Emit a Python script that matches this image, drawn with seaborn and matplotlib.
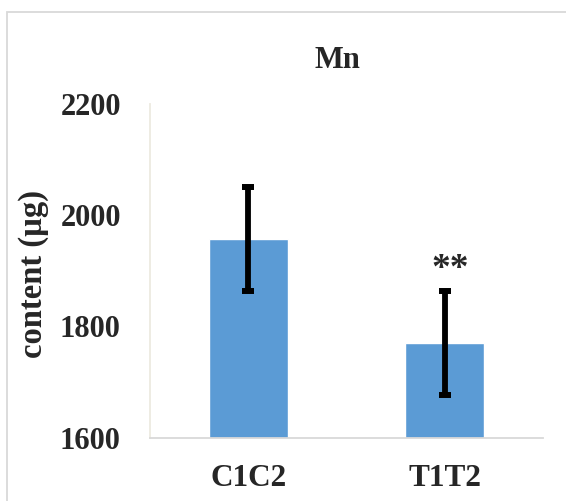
import matplotlib
matplotlib.use("Agg")
import matplotlib.pyplot as plt
from matplotlib.patches import Rectangle
import seaborn as sns
import pandas as pd

# Mean Mn content per group with its standard deviation
groups = ["C1C2", "T1T2"]
means = [1957, 1770]
errors = [94, 94]
marks = ["", "**"]
y_ticks = [1600, 1800, 2000, 2200]

sns.set_theme(style="white")
plt.rcParams["font.family"] = ["Liberation Serif", "DejaVu Serif"]
plt.rcParams["font.weight"] = "bold"

df = pd.DataFrame({"group": groups, "content": means})

W, H = 566, 501
fig = plt.figure(figsize=(W / 100, H / 100), dpi=100)
ax = fig.add_axes([150 / W, 1 - 437.7 / H, 393 / W, 333.7 / H])

sns.barplot(data=df, x="group", y="content", color="#5B9BD5", saturation=1,
            width=0.4, errorbar=None, ax=ax)
ax.errorbar(x=range(len(groups)), y=means, yerr=errors, fmt="none",
            ecolor="black", elinewidth=4.2, capsize=4.2, capthick=4.3)

for i, (m, e, s) in enumerate(zip(means, errors, marks)):
    if s:
        ax.annotate(s, xy=(i, m + e), xytext=(4, 3), textcoords="offset points",
                    ha="center", va="bottom", fontsize=27, fontweight="bold")

ax.set_xlim(-0.5, 1.5)
ax.set_ylim(y_ticks[0], y_ticks[-1])
ax.set_yticks(y_ticks)
ax.tick_params(axis="both", length=0)
ax.tick_params(axis="y", pad=21, labelsize=22)
ax.tick_params(axis="x", pad=19, labelsize=22.5)
for lab in ax.get_xticklabels() + ax.get_yticklabels():
    lab.set_fontweight("bold")

ax.set_xlabel("")
ax.set_ylabel("")
for side in ["top", "right"]:
    ax.spines[side].set_visible(False)
ax.spines["left"].set_color("#EDEAE0")
ax.spines["bottom"].set_color("#D9D9D9")
for side in ["left", "bottom"]:
    ax.spines[side].set_linewidth(1.3)

fig.text(34 / W, 1 - 274 / H, "content (µg)", rotation=90, ha="center",
         va="center", fontsize=23.5, fontweight="bold")
fig.text(337 / W, 1 - 60.5 / H, "Mn", ha="center", va="center",
         fontsize=22, fontweight="bold")

# Chart-area frame running off the right and bottom edges
fig.patches.append(Rectangle((7 / W, -0.05), 1.1, 1 - 12 / H + 0.05,
                             transform=fig.transFigure, fill=False,
                             edgecolor="#D9D9D9", linewidth=1.3))

fig.savefig("out.png", dpi=100)
